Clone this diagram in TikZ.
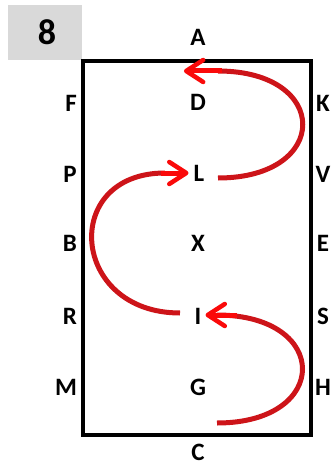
\documentclass[tikz,border=0pt]{standalone}
\usepackage{fontspec}
\setmainfont{Carlito}
\usetikzlibrary{arrows.meta}
\definecolor{arcred}{RGB}{205,20,25}
\definecolor{tipred}{RGB}{250,10,10}
\definecolor{boxgray}{RGB}{217,217,217}
\tikzset{
  lbl/.style={font=\fontsize{25}{25}\selectfont\bfseries, inner sep=0pt, anchor=center},
  arcline/.style={draw=arcred, line width=5pt},
  arrline/.style={draw=tipred, line width=5pt, -{Straight Barb[length=17pt, width=22pt, line width=4.5pt, round]}},
  frame/.style={draw=black, line width=4pt}
}
\begin{document}
\begin{tikzpicture}[x=1pt, y=-1pt]
\useasboundingbox (0,0) rectangle (333,465);
\fill[white] (0,0) rectangle (333,465);
% number tag
\node[fill=boxgray, minimum width=74pt, minimum height=55pt, inner sep=0pt, anchor=north west] (tag) at (8,5) {};
\node[font=\fontsize{36}{36}\selectfont\bfseries, inner sep=0pt] (num) at (47,32) {8};
% frame
\draw[frame] (83,61) rectangle (310.5,434.5);
% labels
\node[lbl] (A) at (198,37) {A};
\node[lbl] (C) at (198,452) {C};
\node[lbl] (F) at (71,103) {F};
\node[lbl] (D) at (198,102) {D};
\node[lbl] (K) at (323,103) {K};
\node[lbl] (P) at (70,174) {P};
\node[lbl] (L) at (199,173) {L};
\node[lbl] (V) at (323,174) {V};
\node[lbl] (B) at (70,243) {B};
\node[lbl] (X) at (198,243) {X};
\node[lbl] (E) at (323,243) {E};
\node[lbl] (R) at (70,316) {R};
\node[lbl] (I) at (198,316) {I};
\node[lbl] (S) at (323,316) {S};
\node[lbl] (M) at (66,387) {M};
\node[lbl] (G) at (198,387) {G};
\node[lbl] (H) at (323,387) {H};
% arc end coordinates
\coordinate (a1s) at (218,178);
\coordinate (a1e) at (218,71);
\coordinate (a2s) at (180,313);
\coordinate (a2e) at (165,173);
\coordinate (a3s) at (217,423);
\coordinate (a3e) at (217,315);
% arcs
\draw[arcline] (a1s) .. controls (331,178) and (331,71) .. (a1e);
\draw[arrline] ([xshift=4pt]a1e) -- ([xshift=-6pt]D.west |- a1e);
\draw[arcline] (a2s) .. controls (70,313) and (60,173) .. (a2e);
\draw[arrline] ([xshift=-4pt]a2e) -- ([xshift=-5pt]L.west |- a2e);
\draw[arcline] (a3s) .. controls (331,423) and (331,315) .. (a3e);
\draw[arrline] ([xshift=20pt]a3e) -- ([xshift=4pt]I.east |- a3e);
\end{tikzpicture}
\end{document}
